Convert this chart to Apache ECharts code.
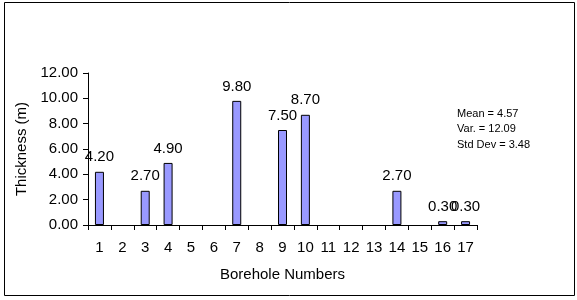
<!DOCTYPE html>
<html>
<head>
<meta charset="utf-8">
<script src="https://cdn.jsdelivr.net/npm/echarts@6/dist/echarts.min.js"></script>
<style>
  html, body { margin: 0; padding: 0; background: #fff; }
  #chart { width: 577px; height: 300px; }
</style>
</head>
<body>
<div id="chart"></div>
<script>
  // borehole numbers and layer thickness (m)
  var boreholes = ['1','2','3','4','5','6','7','8','9','10','11','12','13','14','15','16','17'];
  var thickness = [4.2, 0, 2.7, 4.9, 0, 0, 9.8, 0, 7.5, 8.7, 0, 0, 0, 2.7, 0, 0.3, 0.3];
  var statsLines = ['Mean = 4.57', 'Var. = 12.09', 'Std Dev = 3.48'];

  var font = 'Liberation Sans, Arial, sans-serif';
  var myChart = echarts.init(document.getElementById('chart'));

  // zero thickness: no outline drawn on the axis
  var barData = thickness.map(function (v) {
    return v ? v : { value: v, itemStyle: { borderWidth: 0 } };
  });

  myChart.setOption({
    animation: false,
    grid: { left: 88, right: 100, top: 73, bottom: 75, containLabel: false },
    xAxis: {
      type: 'category',
      data: boreholes,
      name: 'Borehole Numbers',
      nameLocation: 'middle',
      nameGap: 42,
      nameTextStyle: { color: '#000', fontFamily: font, fontSize: 15 },
      axisLine: { lineStyle: { color: '#000', width: 1 } },
      axisTick: { show: true, length: 5, lineStyle: { color: '#000' } },
      axisLabel: { color: '#000', fontFamily: font, fontSize: 15, margin: 15, interval: 0 }
    },
    yAxis: {
      type: 'value',
      min: 0,
      max: 12,
      interval: 2,
      name: 'Thickness (m)',
      nameLocation: 'middle',
      nameGap: 58,
      nameTextStyle: { color: '#000', fontFamily: font, fontSize: 15 },
      axisLine: { show: true, lineStyle: { color: '#000', width: 1 } },
      axisTick: { show: true, length: 5, lineStyle: { color: '#000' } },
      splitLine: { show: false },
      axisLabel: {
        color: '#000', fontFamily: font, fontSize: 15, margin: 10,
        formatter: function (v) { return v.toFixed(2); }
      }
    },
    series: [{
      type: 'bar',
      data: barData,
      barWidth: 9,
      itemStyle: { color: '#9999FF', borderColor: '#000', borderWidth: 1 },
      label: {
        show: true,
        position: 'top',
        distance: 7,
        color: '#000',
        fontFamily: font,
        fontSize: 15,
        formatter: function (p) { return p.value ? p.value.toFixed(2) : ''; }
      }
    }],
    graphic: [
      {
        type: 'rect',
        shape: { x: 4.5, y: 2.5, width: 570, height: 293 },
        style: { fill: 'none', stroke: '#000', lineWidth: 1 },
        silent: true
      },
      {
        type: 'text',
        left: 457,
        top: 106,
        style: {
          text: statsLines.join('\n'),
          fill: '#000',
          font: '11px ' + font,
          lineHeight: 15.5
        }
      }
    ]
  });
</script>
</body>
</html>
